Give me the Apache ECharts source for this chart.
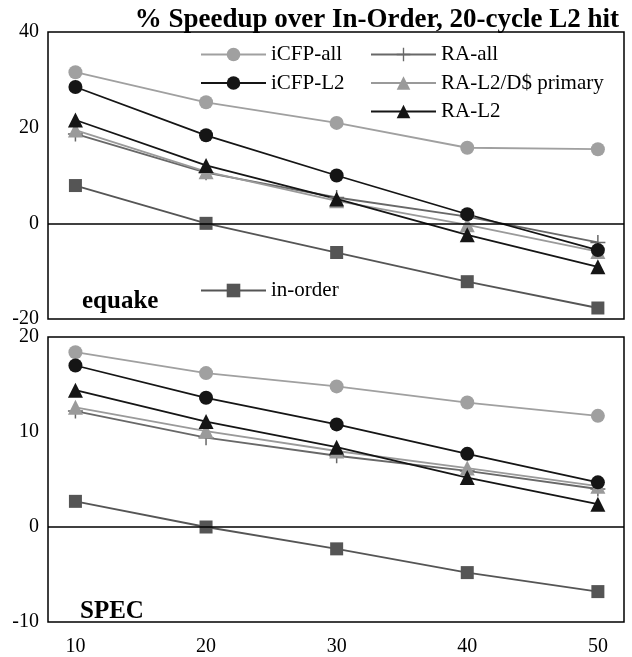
<!DOCTYPE html>
<html>
<head>
    <meta charset="UTF-8">
    <script src="https://cdn.jsdelivr.net/npm/echarts@6/dist/echarts.min.js"></script>
    <style>
        html, body { margin: 0; padding: 0; background: #fff; }
        #main { width: 632px; height: 657px; }
    </style>
</head>
<body>
<div id="main"></div>
<script>
    // x values (cycles)
    var xs = [10, 20, 30, 40, 50];
    var xLabels = ['10', '20', '30', '40', '50'];

    // equake panel
    var eqIcfpAll = [31.6, 25.3, 21.0, 15.8, 15.5];
    var eqIcfpL2 = [28.5, 18.4, 10.0, 1.9, -5.6];
    var eqRaAll = [18.7, 10.6, 5.4, 1.4, -4.0];
    var eqRaL2D = [19.5, 10.8, 4.7, -0.3, -5.9];
    var eqRaL2 = [21.6, 12.1, 5.1, -2.4, -9.1];
    var eqInOrder = [7.9, 0, -6.1, -12.2, -17.7];

    // SPEC panel
    var spIcfpAll = [18.4, 16.2, 14.8, 13.1, 11.7];
    var spIcfpL2 = [17.0, 13.6, 10.8, 7.7, 4.7];
    var spRaAll = [12.2, 9.4, 7.5, 5.9, 4.0];
    var spRaL2D = [12.6, 10.1, 8.0, 6.2, 4.3];
    var spRaL2 = [14.4, 11.1, 8.4, 5.2, 2.4];
    var spInOrder = [2.7, 0, -2.3, -4.8, -6.8];

    var serif = '"Liberation Serif", "DejaVu Serif", serif';
    var plus = 'path://M6.3,0H7.7V6.3H14V7.7H7.7V14H6.3V7.7H0V6.3H6.3Z';

    var styles = {
        'iCFP-all': { color: '#a0a0a0', symbol: 'circle', size: 14 },
        'iCFP-L2': { color: '#151515', symbol: 'circle', size: 14 },
        'RA-all': { color: '#686868', symbol: plus, size: 15 },
        'RA-L2/D$ primary': { color: '#9a9a9a', symbol: 'triangle', size: 15 },
        'RA-L2': { color: '#151515', symbol: 'triangle', size: 15 },
        'in-order': { color: '#555555', symbol: 'rect', size: 13 }
    };

    function pairs(vals) {
        return vals.map(function (v, i) { return [xs[i], v]; });
    }

    function mk(name, vals, idx) {
        var s = styles[name];
        return {
            name: name,
            type: 'line',
            xAxisIndex: idx,
            yAxisIndex: idx,
            data: pairs(vals),
            symbol: s.symbol,
            symbolSize: s.size,
            showSymbol: true,
            animation: false,
            color: s.color,
            lineStyle: { color: s.color, width: 1.8 },
            itemStyle: { color: s.color, borderWidth: 0 }
        };
    }

    var zeroLine = function () {
        return {
            silent: true,
            symbol: 'none',
            label: { show: false },
            lineStyle: { color: '#000', width: 1.5, type: 'solid' },
            data: [{ yAxis: 0 }]
        };
    };

    var series = [
        mk('in-order', eqInOrder, 0),
        mk('RA-all', eqRaAll, 0),
        mk('RA-L2/D$ primary', eqRaL2D, 0),
        mk('RA-L2', eqRaL2, 0),
        mk('iCFP-all', eqIcfpAll, 0),
        mk('iCFP-L2', eqIcfpL2, 0),
        mk('in-order', spInOrder, 1),
        mk('RA-all', spRaAll, 1),
        mk('RA-L2/D$ primary', spRaL2D, 1),
        mk('RA-L2', spRaL2, 1),
        mk('iCFP-all', spIcfpAll, 1),
        mk('iCFP-L2', spIcfpL2, 1)
    ];
    series[0].markLine = zeroLine();
    series[6].markLine = zeroLine();

    var legendText = { fontFamily: serif, fontSize: 21, color: '#000', lineHeight: 20 };
    function legend(names, left, top) {
        return {
            data: names,
            orient: 'vertical',
            left: left,
            top: top,
            itemWidth: 65,
            itemHeight: 17,
            itemGap: 7.5,
            textStyle: legendText,
            selectedMode: false
        };
    }

    var yLabel = { fontFamily: serif, fontSize: 20, color: '#000', margin: 9 };

    var option = {
        backgroundColor: '#fff',
        animation: false,
        title: [
            {
                text: '% Speedup over In-Order, 20-cycle L2 hit',
                right: 8,
                top: 2,
                textStyle: { fontFamily: serif, fontWeight: 'bold', fontSize: 27, color: '#000' }
            },
            {
                text: 'equake',
                left: 77,
                top: 284,
                textStyle: { fontFamily: serif, fontWeight: 'bold', fontSize: 25, color: '#000' }
            },
            {
                text: 'SPEC',
                left: 75,
                top: 594,
                textStyle: { fontFamily: serif, fontWeight: 'bold', fontSize: 25, color: '#000' }
            }
        ],
        legend: [
            legend(['iCFP-all', 'iCFP-L2'], 195, 39),
            legend(['RA-all', 'RA-L2/D$ primary', 'RA-L2'], 365, 39),
            legend(['in-order'], 195, 275)
        ],
        grid: [
            { left: 48, right: 8, top: 32, height: 287, show: true, borderColor: '#000', borderWidth: 1.5, backgroundColor: 'transparent' },
            { left: 48, right: 8, top: 337, height: 287, show: true, borderColor: '#000', borderWidth: 1.5, backgroundColor: 'transparent' }
        ],
        xAxis: [
            {
                type: 'value', gridIndex: 0, min: 7.9, max: 52,
                axisLine: { show: false }, axisTick: { show: false },
                axisLabel: { show: false }, splitLine: { show: false }
            },
            {
                type: 'value', gridIndex: 1, min: 7.9, max: 52,
                axisLine: { show: false }, axisTick: { show: false },
                splitLine: { show: false },
                axisLabel: {
                    customValues: xs,
                    formatter: function (v) { return xLabels[xs.indexOf(v)]; },
                    fontFamily: serif, fontSize: 20, color: '#000', margin: 15
                }
            }
        ],
        yAxis: [
            {
                type: 'value', gridIndex: 0, min: -20, max: 40, interval: 20,
                axisLine: { show: false }, axisTick: { show: false },
                splitLine: { show: false }, axisLabel: yLabel
            },
            {
                type: 'value', gridIndex: 1, min: -10, max: 20, interval: 10,
                axisLine: { show: false }, axisTick: { show: false },
                splitLine: { show: false }, axisLabel: yLabel
            }
        ],
        series: series
    };

    var myChart = echarts.init(document.getElementById('main'));
    myChart.setOption(option);
</script>
</body>
</html>
